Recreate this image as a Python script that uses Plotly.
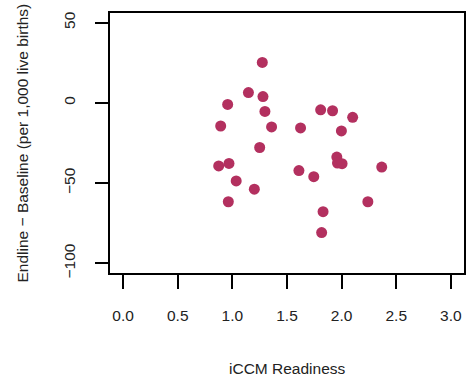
import plotly.graph_objects as go

readiness = [1.274, 1.147, 1.28, 0.957, 1.298, 1.808, 1.917, 2.101, 0.893, 1.359,
             1.624, 1.998, 1.25, 1.956, 1.962, 2.004, 0.875, 0.969, 2.367, 1.609,
             1.745, 1.035, 1.201, 0.963, 2.24, 1.83, 1.817]
change = [25.2, 6.4, 3.9, -1.0, -5.3, -4.3, -4.9, -9.0, -14.4, -15.0,
          -15.6, -17.5, -27.8, -33.8, -37.5, -37.9, -39.3, -37.7, -40.0, -42.2,
          -46.0, -48.6, -53.8, -61.6, -61.6, -67.8, -80.8]
x_ticks = [0.0, 0.5, 1.0, 1.5, 2.0, 2.5, 3.0]
x_tick_labels = ["0.0", "0.5", "1.0", "1.5", "2.0", "2.5", "3.0"]
y_ticks = [-100, -50, 0, 50]
y_tick_labels = ["\u2212100", "\u221250", "0", "50"]

W, H = 468, 381
L, R, T, B = 110, 2, 13, 108
pw, ph = W - L - R, H - T - B

fig = go.Figure(go.Scatter(
    x=readiness, y=change, mode="markers",
    marker=dict(size=11, color="#B3305F", line=dict(width=0)),
    hoverinfo="skip"))

font = dict(family="Liberation Sans, Arial, sans-serif", size=15.5, color="#222222")
fig.update_layout(
    width=W, height=H, margin=dict(l=L, r=R, t=T, b=B),
    plot_bgcolor="white", paper_bgcolor="white", showlegend=False,
    font=font,
    xaxis=dict(range=[-0.12, 3.12], tickvals=x_ticks, ticktext=x_tick_labels,
               showgrid=False, zeroline=False, showline=True, linecolor="black",
               linewidth=2, mirror=True, ticks="outside", ticklen=14, tickwidth=2,
               tickcolor="black", ticklabelstandoff=13, tickfont=font),
    yaxis=dict(range=[-106, 56], tickvals=y_ticks, ticktext=y_tick_labels,
               showgrid=False, zeroline=False, showline=True, linecolor="black",
               linewidth=2, mirror=True, ticks="outside", ticklen=13, tickwidth=2,
               tickcolor="black", tickangle=-90, ticklabelstandoff=14, tickfont=font),
    annotations=[
        dict(text="iCCM Readiness", xref="paper", yref="paper",
             x=(454 - 122.7) / 2 / pw + (122.7 - L) / pw, y=-95 / ph,
             showarrow=False, xanchor="center", yanchor="middle", font=font),
        dict(text="Endline \u2212 Baseline (per 1,000 live births)", xref="paper", yref="paper",
             x=-88 / pw, y=0.5, textangle=-90,
             showarrow=False, xanchor="center", yanchor="middle", font=font),
    ],
)
fig.write_html("out.html")
